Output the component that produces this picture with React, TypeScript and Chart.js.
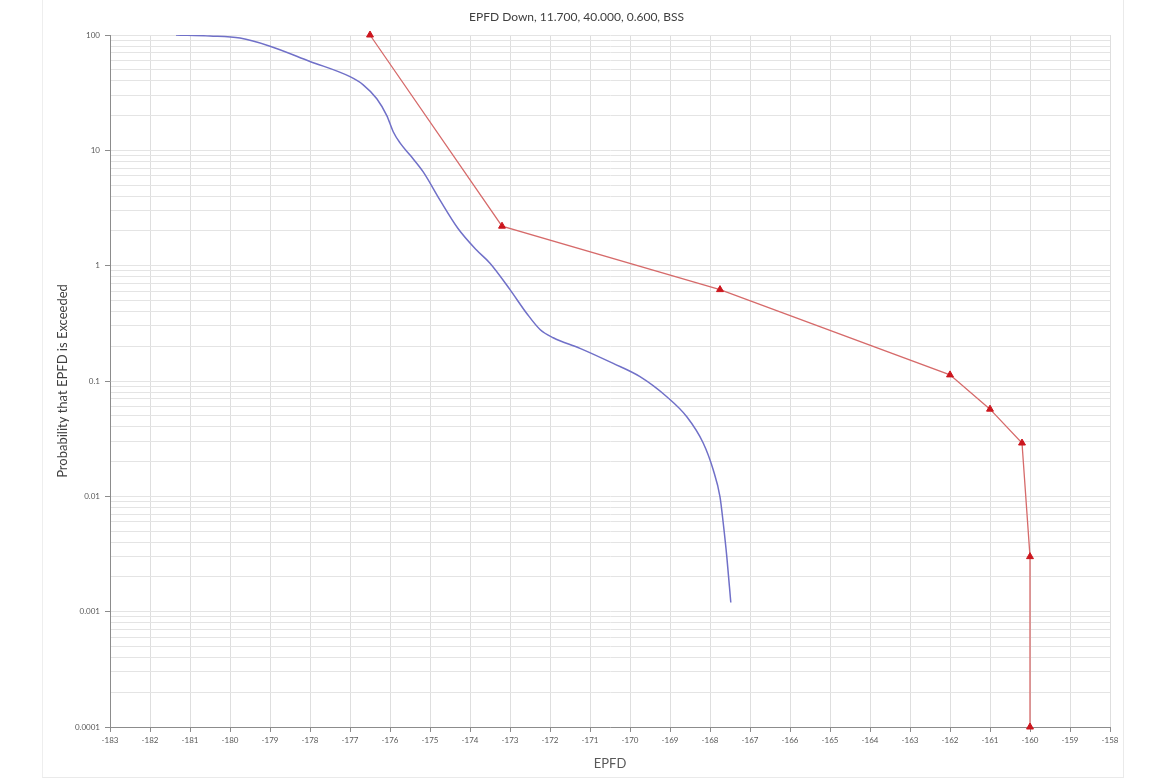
import React, { useEffect, useRef } from "react";
import { Chart, registerables } from "chart.js";

Chart.register(...registerables);

const chartTitle = "EPFD Down, 11.700, 40.000, 0.600, BSS";
const xAxisTitle = "EPFD";
const yAxisTitle = "Probability that EPFD is Exceeded";

// Simulated EPFD distribution (blue curve)
const simEpfd = [
  -181.35, -180.5, -179.75, -179.0, -178.0, -177.0, -176.67, -176.33, -176.08,
  -175.92, -175.75, -175.5, -175.17, -174.75, -174.3, -173.85, -173.5, -173.0,
  -172.58, -172.25, -171.92, -171.25, -170.42, -169.75, -169.08, -168.58,
  -168.17, -167.92, -167.75, -167.67, -167.58, -167.48,
];
const simProb = [
  100, 98, 94, 80, 59, 43.5, 37, 28, 20,
  14.5, 11.6, 9.1, 6.5, 3.7, 2.1, 1.38, 1.05, 0.62,
  0.385, 0.28, 0.237, 0.192, 0.142, 0.109, 0.073, 0.049,
  0.029, 0.017, 0.0099, 0.0059, 0.003, 0.0012,
];

// Limit mask (red line with triangles)
const maskEpfd = [-176.5, -173.2, -167.75, -162.0, -161.0, -160.2, -160.0, -160.0];
const maskProb = [100, 2.2, 0.62, 0.113, 0.057, 0.029, 0.003, 0.0001];

const xMin = -183;
const xMax = -158;
const yTickLabels = ["0.0001", "0.001", "0.01", "0.1", "1", "10", "100"];
const yMinExp = -4;
const yMaxExp = 2;

const FONT = "Lato, 'Open Sans', sans-serif";

export default function App() {
  const ref = useRef<HTMLCanvasElement>(null);

  useEffect(() => {
    if (!ref.current) return;
    const yTicks: { value: number; major: boolean }[] = [];
    for (let e = yMinExp; e <= yMaxExp; e++) {
      for (let m = 1; m <= 9; m++) {
        if (e === yMaxExp && m > 1) break;
        yTicks.push({ value: parseFloat((m * Math.pow(10, e)).toPrecision(6)), major: m === 1 });
      }
    }

    const chart = new Chart(ref.current, {
      type: "scatter",
      data: {
        datasets: [
          {
            label: "EPFD",
            data: simEpfd.map((x, i) => ({ x, y: simProb[i] })),
            showLine: true,
            borderColor: "rgb(112,112,200)",
            borderWidth: 1.5,
            pointRadius: 0,
            cubicInterpolationMode: "monotone",
          },
          {
            label: "Limit",
            data: maskEpfd.map((x, i) => ({ x, y: maskProb[i] })),
            showLine: true,
            borderColor: "rgb(214,106,106)",
            borderWidth: 1.3,
            pointStyle: "triangle",
            pointRadius: 4,
            pointBackgroundColor: "rgb(204,22,30)",
            pointBorderColor: "rgb(204,22,30)",
            pointBorderWidth: 1,
            tension: 0,
            clip: false,
          },
        ],
      },
      options: {
        responsive: false,
        animation: false,
        events: [],
        layout: { padding: { left: 0, right: 13, top: 0, bottom: 0 } },
        plugins: {
          legend: { display: false },
          tooltip: { enabled: false },
          title: {
            display: true,
            text: chartTitle,
            color: "#404040",
            font: { family: FONT, size: 12, weight: "normal" },
            padding: { top: 10, bottom: 10.6 },
          },
        },
        scales: {
          x: {
            type: "linear",
            min: xMin,
            max: xMax,
            afterFit: (s: any) => {
              s.height = 50;
            },
            ticks: {
              stepSize: 1,
              autoSkip: false,
              maxRotation: 0,
              padding: 4,
              color: "#595959",
              font: { family: FONT, size: 8 },
              callback: (v: any) => String(v),
            },
            grid: {
              color: "#dedede",
              lineWidth: 1,
              tickLength: 5,
              tickColor: "#8c8c8c",
            },
            border: { display: true, color: "#8c8c8c", width: 1 },
            title: {
              display: true,
              text: xAxisTitle,
              color: "#595959",
              font: { family: FONT, size: 13 },
              padding: { top: 0, bottom: 5 },
            },
          },
          y: {
            type: "logarithmic",
            min: Math.pow(10, yMinExp),
            max: Math.pow(10, yMaxExp),
            afterFit: (s: any) => {
              s.width = 67;
            },
            afterBuildTicks: (s: any) => {
              s.ticks = yTicks.map((t) => ({ ...t }));
            },
            ticks: {
              autoSkip: false,
              padding: 5,
              color: "#595959",
              font: { family: FONT, size: 8 },
              callback: (v: any, i: number, ticks: any[]) => {
                if (!ticks[i] || !ticks[i].major) return "";
                const idx = Math.round(Math.log10(Number(v))) - yMinExp;
                return yTickLabels[idx] ?? "";
              },
            },
            grid: {
              color: "#e4e4e4",
              lineWidth: 1,
              tickLength: 5,
              tickColor: (ctx: any) => (ctx.tick && ctx.tick.major ? "#8c8c8c" : "rgba(0,0,0,0)"),
            },
            border: { display: true, color: "#8c8c8c", width: 1 },
            title: {
              display: true,
              text: yAxisTitle,
              color: "#404040",
              font: { family: FONT, size: 13 },
              padding: { top: 12, bottom: 0 },
            },
          },
        },
      } as any,
    });
    return () => chart.destroy();
  }, []);

  return (
    <div
      style={{
        position: "absolute",
        left: 42,
        top: 0,
        width: 1080,
        height: 777,
        background: "#ffffff",
        borderLeft: "1px solid #eeeeee",
        borderRight: "1px solid #eaeaea",
        borderBottom: "1px solid #eaeaea",
      }}
    >
      <canvas ref={ref} width={1080} height={777} style={{ display: "block" }} />
    </div>
  );
}
